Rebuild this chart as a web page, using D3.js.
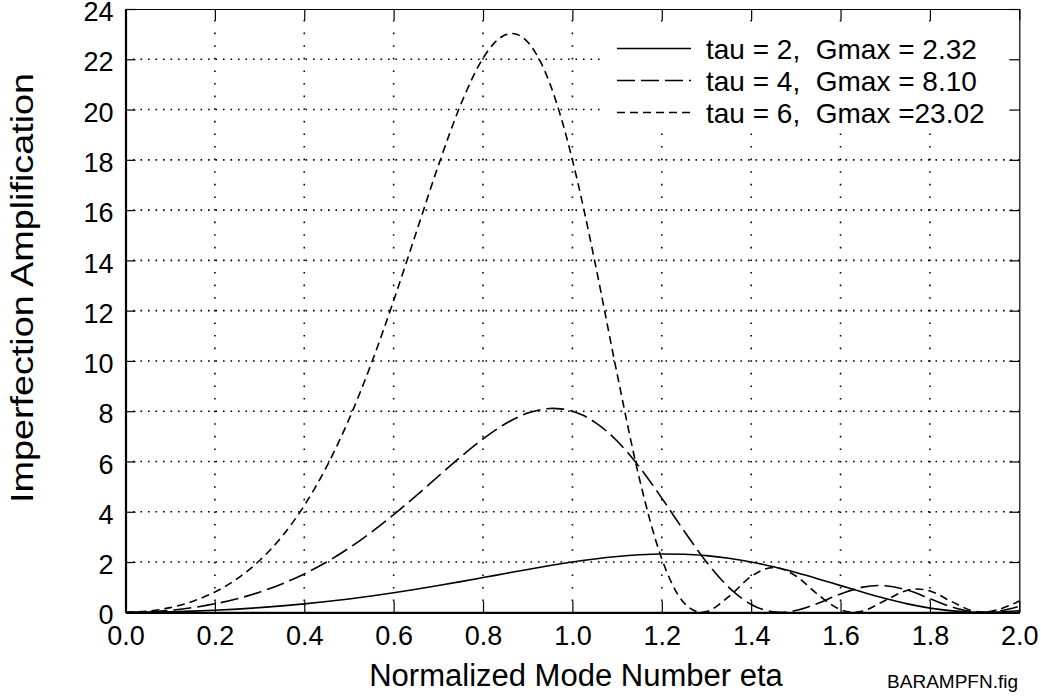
<!DOCTYPE html>
<html>
<head>
<meta charset="utf-8">
<script src="https://cdn.jsdelivr.net/npm/d3@7"></script>
<style>
  html, body { margin: 0; padding: 0; background: #fff; }
  svg { display: block; }
  text { font-family: "Liberation Sans", Arial, Helvetica, sans-serif; fill: #000; white-space: pre; }
</style>
</head>
<body>
<svg id="chart" width="1041" height="698"></svg>
<script>
// ---- data ----
const eta2 = [0,0.05,0.1,0.15,0.2,0.25,0.3,0.35,0.4,0.45,0.5,0.55,0.6,0.65,0.7,0.75,0.8,0.85,0.9,0.95,1.0,1.05,1.1,1.15,1.2,1.25,1.3,1.35,1.4,1.45,1.5,1.55,1.6,1.65,1.7,1.75,1.8,1.85,1.9,1.9186,1.95,2.0];
const g2 = [0,0.0050,0.0201,0.0453,0.0810,0.1275,0.1850,0.2539,0.3346,0.4273,0.5320,0.6488,0.7770,0.9160,1.0644,1.2204,1.3814,1.5442,1.7048,1.8586,2.0000,2.1232,2.2219,2.2897,2.3209,2.3103,2.2543,2.1512,2.0019,1.8098,1.5820,1.3283,1.0616,0.7966,0.5493,0.3351,0.1673,0.0555,0.0040,0,0.0107,0.0670];

const eta4 = [0,0.05,0.1,0.15,0.2,0.25,0.3,0.35,0.4,0.45,0.5,0.55,0.6,0.65,0.7,0.75,0.8,0.85,0.9,0.95,0.955,0.975,1.0,1.025,1.05,1.1,1.15,1.2,1.25,1.3,1.35,1.4,1.45,1.4658,1.5,1.55,1.6,1.65,1.69,1.7,1.75,1.8,1.85,1.9,1.9186,1.95,2.0];
const g4 = [0,0.0201,0.0811,0.1853,0.3367,0.5403,0.8021,1.1288,1.5265,2.0003,2.5528,3.1822,3.8809,4.6331,5.4132,6.1846,6.8994,7.5002,7.9238,8.1078,8.1109,8.0931,8.0000,7.8256,7.5686,6.8140,5.7773,4.5434,3.2366,2.0042,0.9922,0.3132,0.0169,0,0.0712,0.3640,0.7302,1.0003,1.0651,1.0567,0.8771,0.5437,0.2070,0.0158,0,0.0422,0.2410];

const eta6 = [0,0.05,0.1,0.15,0.2,0.25,0.3,0.35,0.4,0.45,0.5,0.55,0.6,0.65,0.7,0.75,0.8,0.825,0.85,0.865,0.875,0.9,0.925,0.95,0.975,1.0,1.025,1.05,1.1,1.15,1.2,1.25,1.2886,1.3,1.35,1.4,1.44,1.45,1.46,1.5,1.55,1.6,1.6289,1.65,1.7,1.75,1.77,1.8,1.85,1.9,1.9186,1.95,2.0];
const g6 = [0,0.0453,0.1854,0.4324,0.8069,1.3372,2.0593,3.0144,4.2456,5.7911,7.6749,9.8932,12.3988,15.0839,17.7679,20.1937,22.0422,22.6427,22.9725,23.0252,22.9959,22.6857,22.0254,21.0127,19.6607,18.0000,16.0799,13.9661,9.4912,5.3120,2.1284,0.3714,0,0.0277,0.6245,1.4245,1.7609,1.7762,1.7624,1.4429,0.7001,0.1034,0,0.0521,0.4687,0.8771,0.9285,0.8472,0.4138,0.0353,0,0.0926,0.4521];

const xTicks = [0,0.2,0.4,0.6,0.8,1.0,1.2,1.4,1.6,1.8,2.0];
const yTicks = [0,2,4,6,8,10,12,14,16,18,20,22,24];
const legendLabels = ["tau = 2,  Gmax = 2.32", "tau = 4,  Gmax = 8.10", "tau = 6,  Gmax =23.02"];
const xTitle = "Normalized Mode Number eta";
const yTitle = "Imperfection Amplification";
const fileTag = "BARAMPFN.fig";

// ---- layout ----
const X0 = 125.5, X1 = 1019.3, Y0 = 612.3, Y1 = 9;
const svg = d3.select("#chart");
const x = d3.scaleLinear().domain([0, 2]).range([X0, X1]);
const y = d3.scaleLinear().domain([0, 24]).range([Y0, Y1]);

const series = [
  { eta: eta2, g: g2, dash: null },
  { eta: eta4, g: g4, dash: "18,6" },
  { eta: eta6, g: g6, dash: "8,5" }
];

// grid
const grid = svg.append("g");
grid.selectAll("line.h").data(yTicks.slice(1, -1)).join("line")
  .attr("x1", X0).attr("x2", X1).attr("y1", d => y(d)).attr("y2", d => y(d))
  .attr("stroke", "#000").attr("stroke-width", 1.6).attr("stroke-dasharray", "1.6,5.9");
grid.selectAll("line.v").data(xTicks.slice(1, -1)).join("line")
  .attr("y1", Y1 + 11).attr("y2", Y0).attr("x1", d => x(d)).attr("x2", d => x(d))
  .attr("stroke", "#000").attr("stroke-width", 1.6).attr("stroke-dasharray", "1.6,11");

// legend background
svg.append("rect").attr("x", 603).attr("y", 24).attr("width", X1 - 603).attr("height", 108).attr("fill", "#fff");

// curves
svg.append("clipPath").attr("id", "clip").append("rect")
  .attr("x", X0).attr("y", Y1).attr("width", X1 - X0).attr("height", Y0 - Y1);
const line = d3.line().x(d => x(d[0])).y(d => y(d[1])).curve(d3.curveMonotoneX);
const curves = svg.append("g").attr("clip-path", "url(#clip)");
series.forEach(s => {
  const pts = s.eta.map((e, i) => [e, s.g[i]]);
  curves.append("path").datum(pts).attr("d", line)
    .attr("fill", "none").attr("stroke", "#000").attr("stroke-width", 1.6)
    .attr("stroke-dasharray", s.dash);
});

// axes
const fs = "27px";
const ax = svg.append("g").attr("transform", `translate(0,${Y0})`)
  .call(d3.axisBottom(x).tickValues(xTicks).tickFormat(d3.format(".1f")).tickSizeInner(-11).tickSizeOuter(0).tickPadding(14));
const ay = svg.append("g").attr("transform", `translate(${X0},0)`)
  .call(d3.axisLeft(y).tickValues(yTicks).tickFormat(d3.format("d")).tickSizeInner(-10).tickSizeOuter(0).tickPadding(12));
const at = svg.append("g").attr("transform", `translate(0,${Y1})`)
  .call(d3.axisTop(x).tickValues(xTicks).tickFormat("").tickSizeInner(-11).tickSizeOuter(0));
const ar = svg.append("g").attr("transform", `translate(${X1},0)`)
  .call(d3.axisRight(y).tickValues(yTicks).tickFormat("").tickSizeInner(-10).tickSizeOuter(0));
[ax, ay, at, ar].forEach(g => {
  g.selectAll("text").style("font-size", fs).style("font-family", '"Liberation Sans", Arial, sans-serif').attr("fill", "#000");
  g.selectAll(".tick line").attr("stroke", "#000").attr("stroke-width", 1.2);
});
ax.select(".domain").attr("stroke", "#000").attr("stroke-width", 2.2);
ay.select(".domain").attr("stroke", "#000").attr("stroke-width", 2.2);
at.select(".domain").attr("stroke", "#000").attr("stroke-width", 1.2);
ar.select(".domain").attr("stroke", "#000").attr("stroke-width", 1.2);
ay.selectAll("text").attr("dy", "0.43em");

// legend
const leg = svg.append("g");
legendLabels.forEach((lab, i) => {
  const ly = 48.5 + i * 32;
  leg.append("line").attr("x1", 617).attr("x2", 691).attr("y1", ly).attr("y2", ly)
    .attr("stroke", "#000").attr("stroke-width", 1.6).attr("stroke-dasharray", series[i].dash);
  leg.append("text").attr("x", 706).attr("y", ly).attr("dy", "0.36em")
    .style("font-size", "28px").text(lab);
});

// titles
svg.append("text").attr("x", 576).attr("y", 686).attr("text-anchor", "middle")
  .style("font-size", "31px").text(xTitle);
svg.append("text").attr("transform", "translate(33,288) rotate(-90)").attr("text-anchor", "middle")
  .attr("textLength", 430).attr("lengthAdjust", "spacingAndGlyphs")
  .style("font-size", "32px").text(yTitle);
svg.append("text").attr("x", 1018).attr("y", 688).attr("text-anchor", "end")
  .style("font-size", "19px").text(fileTag);
</script>
</body>
</html>
